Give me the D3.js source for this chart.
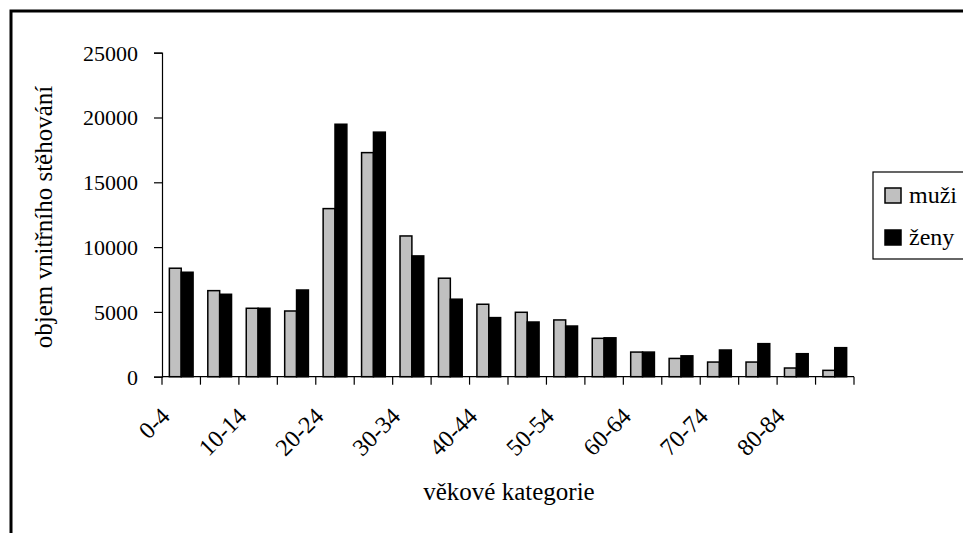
<!DOCTYPE html>
<html>
<head>
<meta charset="utf-8">
<script src="https://cdn.jsdelivr.net/npm/d3@7"></script>
<style>
  body { margin: 0; background: #fff; }
  svg text { font-family: "Liberation Serif", "Times New Roman", serif; fill: #000; }
</style>
</head>
<body>
<script>
// Data
const categories = ["0-4", "5-9", "10-14", "15-19", "20-24", "25-29", "30-34", "35-39", "40-44",
    "45-49", "50-54", "55-59", "60-64", "65-69", "70-74", "75-79", "80-84", "85+"];
const muzi = [8370, 6640, 5280, 5070, 12970, 17290, 10860, 7600, 5590,
    4970, 4380, 2960, 1900, 1410, 1130, 1130, 670, 490];
const zeny = [8060, 6360, 5280, 6690, 19480, 18870, 9320, 5980, 4560,
    4220, 3910, 3000, 1900, 1610, 2060, 2550, 1775, 2240];
const series = ["muži", "ženy"];
const colors = ["#c0c0c0", "#000000"];
const yTicks = [0, 5000, 10000, 15000, 20000, 25000];

const W = 963, H = 533;
const svg = d3.select("body").append("svg")
    .attr("width", W)
    .attr("height", H);

// Outer frame (cut off on right and bottom like the original)
svg.append("rect")
    .attr("x", 11).attr("y", 11)
    .attr("width", 1000).attr("height", 600)
    .attr("fill", "none")
    .attr("stroke", "#000")
    .attr("stroke-width", 3);

const plot = { left: 162, right: 854, top: 52.7, bottom: 376.7 };

const x = d3.scaleBand()
    .domain(categories)
    .range([plot.left, plot.right]);

const xInner = d3.scaleBand()
    .domain(series)
    .range([0, x.step()])
    .paddingInner(0)
    .paddingOuter(0.62);

const y = d3.scaleLinear()
    .domain([0, 25000])
    .range([plot.bottom, plot.top]);

// Bars
const rows = categories.map((c, i) => ({ cat: c, values: [muzi[i], zeny[i]] }));
const groups = svg.append("g").selectAll("g")
    .data(rows)
    .enter().append("g")
    .attr("transform", d => "translate(" + x(d.cat) + ",0)");

groups.selectAll("rect")
    .data(d => d.values.map((v, j) => ({ key: series[j], v: v, j: j })))
    .enter().append("rect")
    .attr("x", d => xInner(d.key))
    .attr("y", d => y(d.v))
    .attr("width", xInner.bandwidth())
    .attr("height", d => plot.bottom - y(d.v))
    .attr("fill", d => colors[d.j])
    .attr("stroke", "#000")
    .attr("stroke-width", 1.5);

// Y axis
const yAxis = d3.axisLeft(y).tickValues(yTicks).tickSize(8).tickPadding(16).tickFormat(d3.format("d"));
const gy = svg.append("g")
    .attr("transform", "translate(" + plot.left + ",0)")
    .call(yAxis);
gy.select(".domain").attr("stroke", "#000").attr("stroke-width", 1.2);
gy.selectAll(".tick line").attr("stroke", "#000").attr("stroke-width", 1.2);
gy.selectAll(".tick text").style("font-size", "22px").attr("dy", "0.34em");

// X axis: tick marks at category boundaries
const gx = svg.append("g")
    .attr("transform", "translate(0," + plot.bottom + ")");
gx.append("line")
    .attr("x1", plot.left).attr("x2", plot.right)
    .attr("stroke", "#000").attr("stroke-width", 1.2);
const bounds = categories.map(c => x(c)).concat([plot.right]);
gx.selectAll(".bt")
    .data(bounds)
    .enter().append("line")
    .attr("class", "bt")
    .attr("x1", d => d).attr("x2", d => d)
    .attr("y1", 0).attr("y2", 8)
    .attr("stroke", "#000").attr("stroke-width", 1.2);

// Rotated category labels (every other one)
gx.selectAll(".lbl")
    .data(categories.filter((c, i) => i % 2 === 0))
    .enter().append("text")
    .attr("class", "lbl")
    .attr("transform", d => "translate(" + (x(d) + x.bandwidth() / 2 - 16) + ",35) rotate(-45)")
    .attr("text-anchor", "end")
    .attr("dy", "0.35em")
    .style("font-size", "24px")
    .text(d => d);

// Axis titles
svg.append("text")
    .attr("x", 509).attr("y", 500)
    .attr("text-anchor", "middle")
    .style("font-size", "25px")
    .text("věkové kategorie");

svg.append("text")
    .attr("transform", "translate(52,217) rotate(-90)")
    .attr("text-anchor", "middle")
    .style("font-size", "25px")
    .text("objem vnitřního stěhování");

// Legend
const lg = svg.append("g");
lg.append("rect")
    .attr("x", 873).attr("y", 172)
    .attr("width", 120).attr("height", 87)
    .attr("fill", "#fff")
    .attr("stroke", "#000")
    .attr("stroke-width", 1.2);
const items = lg.selectAll(".item")
    .data(series)
    .enter().append("g")
    .attr("class", "item")
    .attr("transform", (d, i) => "translate(885," + (188 + i * 42) + ")");
items.append("rect")
    .attr("width", 16).attr("height", 15)
    .attr("fill", (d, i) => colors[i])
    .attr("stroke", "#000")
    .attr("stroke-width", 1.5);
items.append("text")
    .attr("x", 24).attr("y", 15)
    .style("font-size", "24px")
    .text(d => d);
</script>
</body>
</html>
